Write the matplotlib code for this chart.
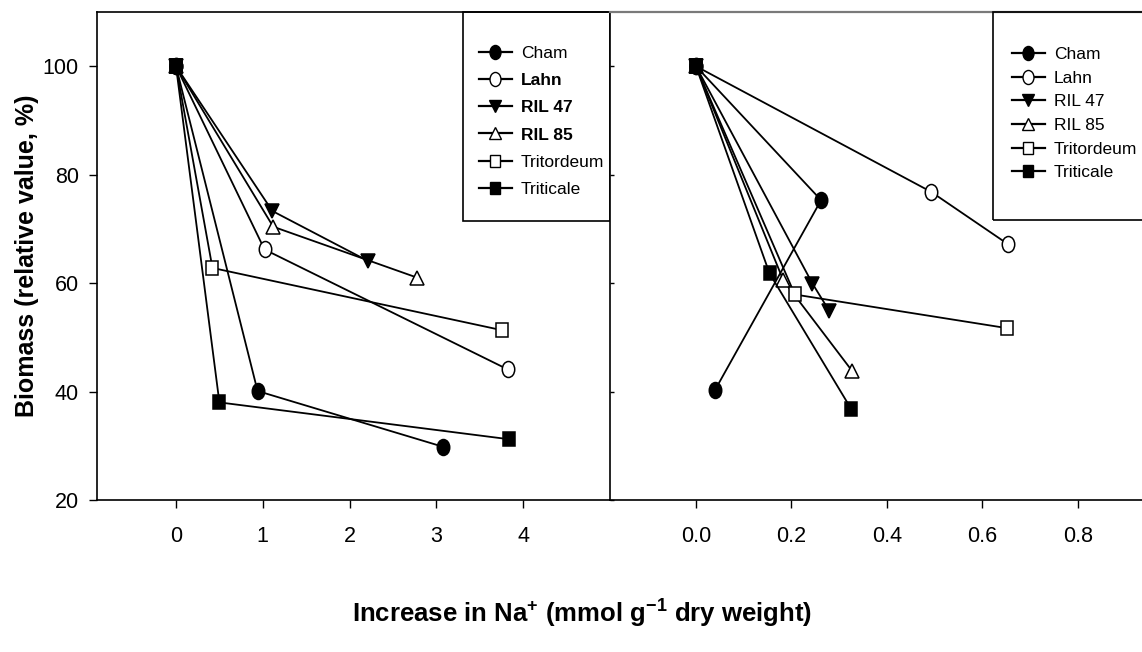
import matplotlib
matplotlib.use("Agg")
import matplotlib.pyplot as plt
from matplotlib.markers import MarkerStyle
from matplotlib.transforms import Affine2D
from matplotlib.lines import Line2D
from matplotlib.patches import Rectangle

plt.rcParams['font.family'] = ['Liberation Sans', 'DejaVu Sans']
plt.rcParams['mathtext.fontset'] = 'custom'
plt.rcParams['mathtext.rm'] = 'Liberation Sans'
plt.rcParams['mathtext.bf'] = 'Liberation Sans:bold'

genotypes = ['Cham', 'Lahn', 'RIL 47', 'RIL 85', 'Tritordeum', 'Triticale']

# left panel: Na+ increase (mmol/g) vs relative biomass (%)
cham_na1 = [0, 0.94, 3.08]
cham_bio1 = [100, 40.1, 29.8]
lahn_na1 = [0, 1.02, 3.82]
lahn_bio1 = [100, 66.2, 44.1]
ril47_na1 = [0, 1.11, 2.21]
ril47_bio1 = [100, 73.3, 64.1]
ril85_na1 = [0, 1.12, 2.78]
ril85_bio1 = [100, 70.4, 61.0]
trito_na1 = [0, 0.42, 3.76]
trito_bio1 = [100, 62.8, 51.3]
tritic_na1 = [0, 0.50, 3.84]
tritic_bio1 = [100, 38.0, 31.2]

# right panel
cham_na2 = [0, 0.262, 0.040]
cham_bio2 = [100, 75.3, 40.3]
lahn_na2 = [0, 0.493, 0.653]
lahn_bio2 = [100, 76.8, 67.2]
ril47_na2 = [0, 0.244, 0.279]
ril47_bio2 = [100, 59.9, 54.9]
ril85_na2 = [0, 0.183, 0.327]
ril85_bio2 = [100, 60.5, 43.8]
trito_na2 = [0, 0.207, 0.651]
trito_bio2 = [100, 57.9, 51.7]
tritic_na2 = [0, 0.154, 0.325]
tritic_bio2 = [100, 61.8, 36.8]

left_ticks = [0, 1, 2, 3, 4]
right_ticks = [0.0, 0.2, 0.4, 0.6, 0.8]
y_ticks = [20, 40, 60, 80, 100]


def squeezed(m, sx=1.0, sy=1.0):
    return MarkerStyle(m, transform=Affine2D().scale(sx, sy))


# marker, face colour, size
styles = {
    'Cham': (squeezed('o', 0.78), 'black', 11.5),
    'Lahn': (squeezed('o', 0.78), 'white', 11.5),
    'RIL 47': (squeezed('v', 1.0, 0.92), 'black', 10.5),
    'RIL 85': (squeezed('^', 1.0, 0.92), 'white', 10.5),
    'Tritordeum': (squeezed('s', 0.92), 'white', 9.5),
    'Triticale': (squeezed('s', 0.92), 'black', 9.5),
}

W, H = 1142, 652
fig = plt.figure(figsize=(W / 100, H / 100), dpi=100)


def fig_rect(x0, y0, x1, y1):
    # pixel box (top-left origin) -> figure fraction
    return [x0 / W, 1 - y1 / H, (x1 - x0) / W, (y1 - y0) / H]


ax1 = fig.add_axes(fig_rect(97, 12, 610, 500))
ax2 = fig.add_axes(fig_rect(610, 12, 1142, 500))

left_data = [(cham_na1, cham_bio1), (lahn_na1, lahn_bio1), (ril47_na1, ril47_bio1),
             (ril85_na1, ril85_bio1), (trito_na1, trito_bio1), (tritic_na1, tritic_bio1)]
right_data = [(cham_na2, cham_bio2), (lahn_na2, lahn_bio2), (ril47_na2, ril47_bio2),
              (ril85_na2, ril85_bio2), (trito_na2, trito_bio2), (tritic_na2, tritic_bio2)]

for ax, data in ((ax1, left_data), (ax2, right_data)):
    for name, (xs, ys) in zip(genotypes, data):
        mk, fc, ms = styles[name]
        ax.plot(xs, ys, color='black', lw=1.3, marker=mk, ms=ms,
                mfc=fc, mec='black', mew=1.1, clip_on=False, zorder=3)

ax1.set_xlim(-0.91, 5.0)
ax2.set_xlim(-0.18, 0.934)
for ax in (ax1, ax2):
    ax.set_ylim(20, 110)
    for s in ax.spines.values():
        s.set_linewidth(1.2)

ax1.set_xticks(left_ticks)
ax1.set_yticks(y_ticks)
ax1.tick_params(axis='both', direction='out', length=6, width=1, labelsize=15.5)
ax1.tick_params(axis='x', pad=13)
ax1.tick_params(axis='y', pad=7)
ax1.spines['right'].set_visible(False)

ax2.set_xticks(right_ticks)
ax2.set_xticklabels([f'{t:.1f}' for t in right_ticks])
ax2.set_yticks(y_ticks)
ax2.set_yticklabels([])
ax2.tick_params(axis='x', direction='out', length=6, width=1, labelsize=15.5, pad=13)
ax2.tick_params(axis='y', direction='in', length=3, width=1)
ax2.spines['right'].set_visible(False)
ax2.spines['top'].set_color('#7a7a7a')
ax2.spines['top'].set_linewidth(1.6)

ax1.set_ylabel('Biomass (relative value, %)', fontweight='bold', fontsize=18)
ax1.yaxis.set_label_coords(-0.113, 0.5)

fig.text(582 / W, 1 - 622 / H,
         r'Increase in Na$^{\mathbf{+}}$ (mmol g$^{\mathbf{-1}}$ dry weight)',
         ha='center', va='baseline', fontsize=18.5, fontweight='bold')


def add_legend(ax, anchor, spacing, box, bold_names):
    handles = []
    for name in genotypes:
        mk, fc, ms = styles[name]
        handles.append(Line2D([], [], color='black', lw=1.6, marker=mk,
                              ms=ms * 0.88, mfc=fc, mec='black', mew=1.0))
    leg = ax.legend(handles, genotypes, loc='upper left', frameon=False,
                    bbox_to_anchor=(anchor[0] / W, 1 - anchor[1] / H),
                    bbox_transform=fig.transFigure, borderpad=0, borderaxespad=0,
                    handlelength=1.9, handletextpad=0.5, labelspacing=spacing,
                    fontsize=12.5)
    for t in leg.get_texts():
        if t.get_text() in bold_names:
            t.set_fontweight('bold')
    x0, y0, x1, y1 = box
    ax.add_patch(Rectangle((x0 / W, 1 - y1 / H), (x1 - x0) / W, (y1 - y0) / H,
                           transform=fig.transFigure, fill=False, edgecolor='black',
                           lw=1.2, clip_on=False, zorder=4))


add_legend(ax1, (479, 46), 0.69, (463, 12, 610, 221), ('Lahn', 'RIL 47', 'RIL 85'))
add_legend(ax2, (1012, 47), 0.49, (993, 12, 1160, 220), ())

fig.savefig('out.png', dpi=100)
